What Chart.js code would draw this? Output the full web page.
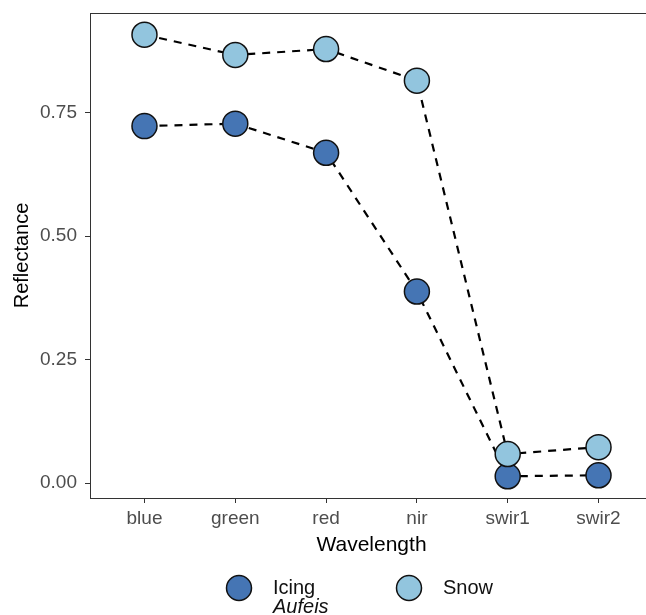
<!DOCTYPE html>
<html lang="en">
<head>
    <meta charset="UTF-8">
    <title>Reflectance by wavelength</title>
    <script src="https://cdn.jsdelivr.net/npm/chart.js@4"></script>
    <style>
        html, body {
            margin: 0;
            padding: 0;
            background: #fff;
        }

        .wrap {
            width: 646px;
            height: 615px;
            overflow: hidden;
        }
    </style>
</head>
<body>
    <div class="wrap">
        <canvas id="chart" width="660" height="615" style="width:660px;height:615px"></canvas>
    </div>

    <script>
        // data
        const wavelengths = ['blue', 'green', 'red', 'nir', 'swir1', 'swir2'];
        const icing = [0.723, 0.728, 0.669, 0.388, 0.014, 0.016];
        const snow = [0.908, 0.867, 0.879, 0.815, 0.059, 0.073];
        const yTicks = [0, 0.25, 0.5, 0.75];

        const seriesNames = ['Icing', 'Snow'];
        const seriesSub = ['Aufeis', ''];
        const seriesColors = ['#4575b4', '#92c5de'];

        const FONT = "'Liberation Sans', Arial, sans-serif";
        const toPoints = vals => vals.map((v, i) => ({ x: i + 1, y: v }));

        // ggplot-like panel border
        const panelBorder = {
            id: 'panelBorder',
            afterDraw(chart) {
                const { ctx, chartArea: a } = chart;
                ctx.save();
                ctx.strokeStyle = '#333333';
                ctx.lineWidth = 1;
                ctx.strokeRect(a.left + 0.5, a.top + 0.5, a.right - a.left, a.bottom - a.top);
                ctx.restore();
            }
        };

        // legend under the axis: circle + label (+ italic second line)
        const bottomLegend = {
            id: 'bottomLegend',
            afterDraw(chart) {
                const ctx = chart.ctx;
                const xs = [239, 409];
                const cy = 588;
                ctx.save();
                seriesNames.forEach((name, i) => {
                    ctx.beginPath();
                    ctx.arc(xs[i], cy, 12.5, 0, Math.PI * 2);
                    ctx.fillStyle = seriesColors[i];
                    ctx.fill();
                    ctx.lineWidth = 1.5;
                    ctx.strokeStyle = '#111';
                    ctx.stroke();

                    ctx.fillStyle = '#111';
                    ctx.textAlign = 'left';
                    ctx.textBaseline = 'alphabetic';
                    ctx.font = `20px ${FONT}`;
                    ctx.fillText(name, xs[i] + 34, 594);
                    if (seriesSub[i]) {
                        ctx.font = `italic 20px ${FONT}`;
                        ctx.fillText(seriesSub[i], xs[i] + 34, 613);
                    }
                });
                ctx.restore();
            }
        };

        const ctx = document.getElementById('chart').getContext('2d');

        new Chart(ctx, {
            type: 'line',
            data: {
                datasets: [
                    {
                        label: seriesNames[0],
                        data: toPoints(icing),
                        order: 1,
                        backgroundColor: seriesColors[0],
                    },
                    {
                        label: seriesNames[1],
                        data: toPoints(snow),
                        order: 0,
                        backgroundColor: seriesColors[1],
                    }
                ].map(d => Object.assign(d, {
                    borderColor: '#000',
                    borderWidth: 2.2,
                    borderDash: [8, 7],
                    tension: 0,
                    fill: false,
                    pointRadius: 12.5,
                    pointHoverRadius: 12.5,
                    pointBackgroundColor: d.backgroundColor,
                    pointBorderColor: '#111',
                    pointBorderWidth: 1.5,
                    clip: false
                }))
            },
            options: {
                responsive: false,
                devicePixelRatio: 1,
                animation: false,
                layout: {
                    autoPadding: false,
                    padding: { left: 0, top: 13, right: 7, bottom: 55 }
                },
                plugins: {
                    legend: { display: false },
                    tooltip: { enabled: false }
                },
                scales: {
                    x: {
                        type: 'linear',
                        min: 0.4,
                        max: 6.6,
                        afterBuildTicks: s => { s.ticks = wavelengths.map((_, i) => ({ value: i + 1 })); },
                        afterFit: s => {
                            s.height = 62;
                            s.paddingLeft = 0;
                            s.paddingRight = 0;
                        },
                        grid: {
                            drawOnChartArea: false,
                            drawTicks: true,
                            tickLength: 5,
                            color: '#333333'
                        },
                        border: { display: true, color: '#333333', width: 1 },
                        ticks: {
                            callback: v => wavelengths[Math.round(v) - 1],
                            color: '#4d4d4d',
                            font: { family: FONT, size: 19 },
                            padding: 4,
                            maxRotation: 0,
                            autoSkip: false
                        },
                        title: {
                            display: true,
                            text: 'Wavelength',
                            color: '#000',
                            font: { family: FONT, size: 21 },
                            padding: { top: 0, bottom: 2 }
                        }
                    },
                    y: {
                        min: -0.03,
                        max: 0.952,
                        afterBuildTicks: s => { s.ticks = yTicks.map(v => ({ value: v })); },
                        afterFit: s => {
                            s.width = 90;
                            s.paddingTop = 0;
                            s.paddingBottom = 0;
                        },
                        grid: {
                            drawOnChartArea: false,
                            drawTicks: true,
                            tickLength: 5,
                            color: '#333333'
                        },
                        border: { display: true, color: '#333333', width: 1 },
                        ticks: {
                            callback: v => v.toFixed(2),
                            color: '#4d4d4d',
                            font: { family: FONT, size: 19 },
                            padding: 8
                        },
                        title: {
                            display: true,
                            text: 'Reflectance',
                            color: '#000',
                            font: { family: FONT, size: 20 },
                            padding: { top: 10, bottom: 0 }
                        }
                    }
                }
            },
            plugins: [panelBorder, bottomLegend]
        });
    </script>
</body>
</html>
